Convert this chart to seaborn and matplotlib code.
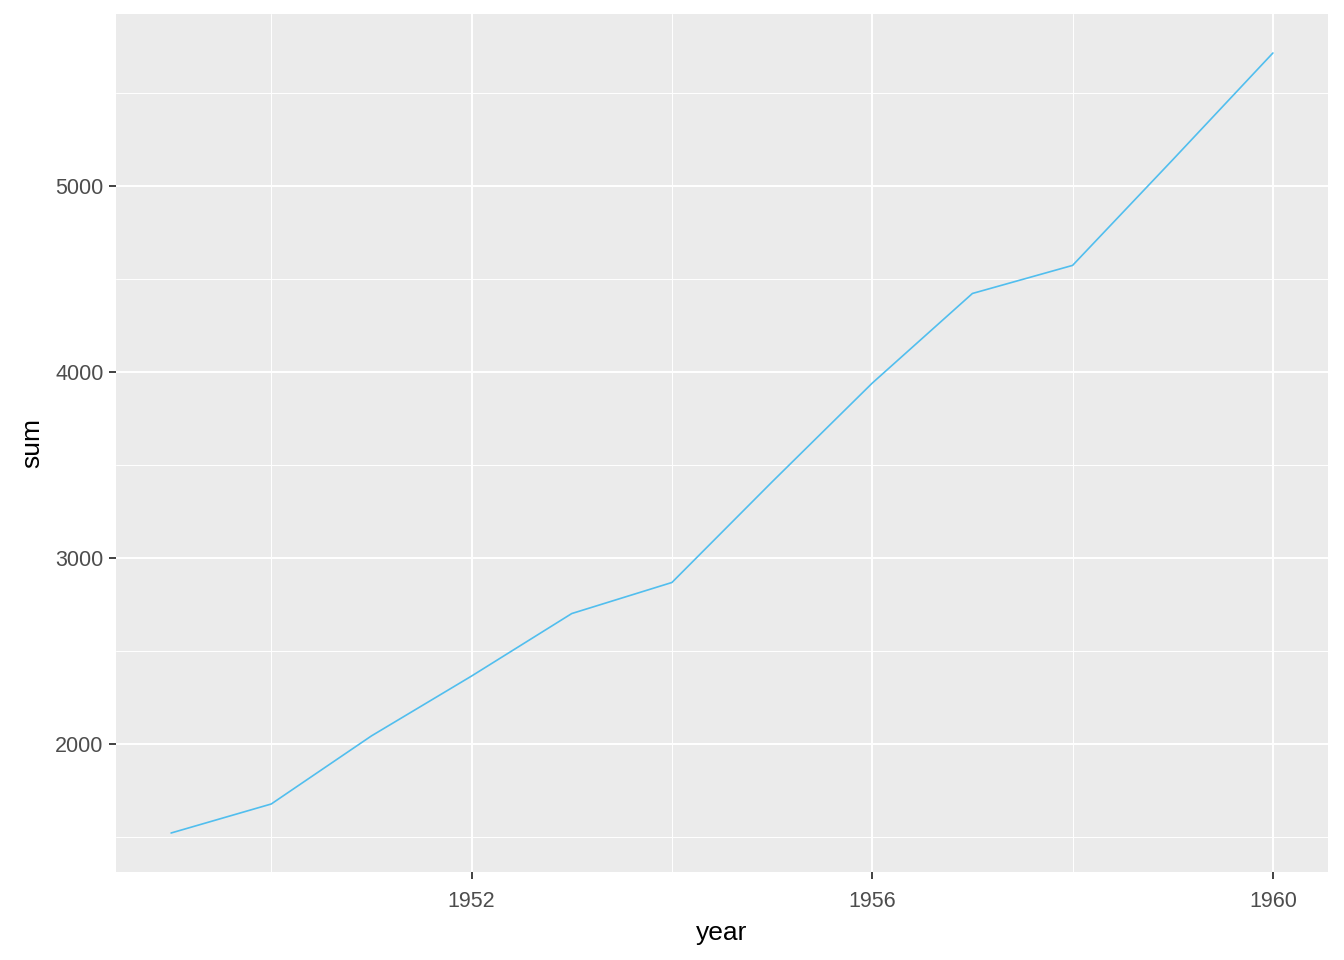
import matplotlib
matplotlib.use('Agg')
import matplotlib.pyplot as plt
from matplotlib.ticker import FixedLocator
import seaborn as sns
import pandas as pd

# Yearly totals
years = [1949, 1950, 1951, 1952, 1953, 1954, 1955, 1956, 1957, 1958, 1959, 1960]
sums = [1520, 1676, 2042, 2364, 2700, 2867, 3408, 3939, 4421, 4572, 5140, 5714]
x_ticks = [1952, 1956, 1960]
y_ticks = [2000, 3000, 4000, 5000]

df = pd.DataFrame({'year': years, 'sum': sums})

sns.set_theme(style='darkgrid', rc={
    'axes.facecolor': '#EBEBEB',
    'grid.color': 'white',
    'axes.edgecolor': '#EBEBEB',
})
plt.rcParams['font.family'] = ['Liberation Sans', 'DejaVu Sans']

fig = plt.figure(figsize=(13.44, 9.6), dpi=100)
ax = fig.add_axes([116 / 1344, 88 / 960, (1328 - 116) / 1344, (872 - 14) / 960])

sns.lineplot(data=df, x='year', y='sum', ax=ax, color='#51BEEE', linewidth=1.2)

xr = years[-1] - years[0]
ax.set_xlim(years[0] - 0.05 * xr, years[-1] + 0.05 * xr)
yr = max(sums) - min(sums)
ax.set_ylim(min(sums) - 0.05 * yr, max(sums) + 0.05 * yr)

ax.xaxis.set_major_locator(FixedLocator(x_ticks))
ax.yaxis.set_major_locator(FixedLocator(y_ticks))
ax.xaxis.set_minor_locator(FixedLocator([1950, 1954, 1958]))
ax.yaxis.set_minor_locator(FixedLocator([1500, 2500, 3500, 4500, 5500]))
ax.grid(which='major', color='white', linewidth=1.4)
ax.grid(which='minor', color='white', linewidth=0.7)

ax.tick_params(axis='both', which='major', length=5, width=1.3, color='#333333',
               labelsize=15.5, labelcolor='#4D4D4D', pad=4, bottom=True, left=True)
ax.tick_params(axis='x', which='major', pad=9)
ax.tick_params(which='minor', length=0)
for s in ax.spines.values():
    s.set_visible(False)

ax.set_xlabel('year', fontsize=19, color='black', labelpad=6)
ax.set_ylabel('sum', fontsize=19, color='black', labelpad=8)

fig.savefig('out.png', dpi=100)
